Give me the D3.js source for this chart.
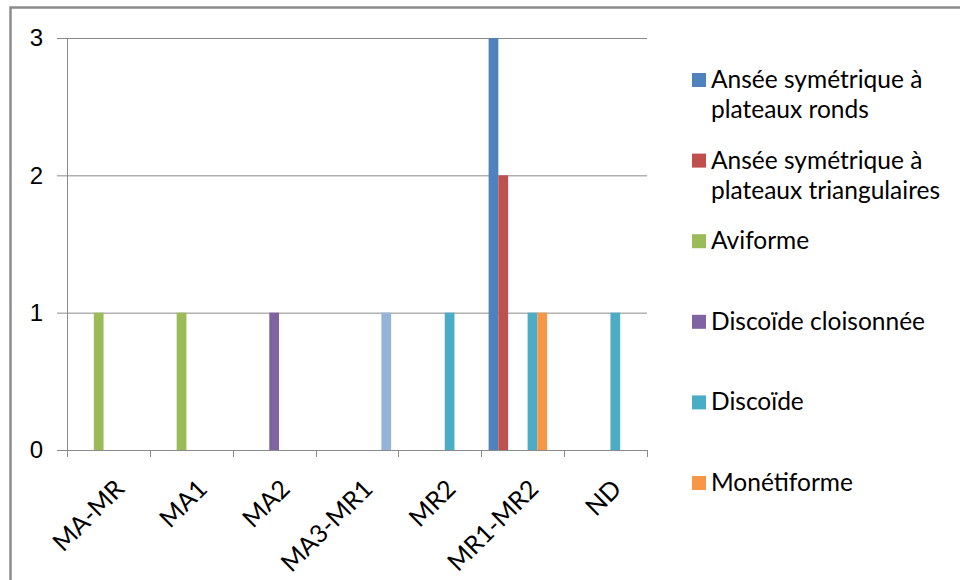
<!DOCTYPE html>
<html>
<head>
<meta charset="utf-8">
<script src="https://cdn.jsdelivr.net/npm/d3@7"></script>
<style>
  body { margin: 0; background: #fff; }
  svg { display: block; font-family: Lato, "Open Sans", sans-serif; }
</style>
</head>
<body>
<svg class="chart"></svg>
<script>
let categories = ['MA-MR', 'MA1', 'MA2', 'MA3-MR1', 'MR2', 'MR1-MR2', 'ND'];

let seriesNames = [
  'Ansée symétrique à plateaux ronds',
  'Ansée symétrique à plateaux triangulaires',
  'Aviforme',
  'Discoïde cloisonnée',
  'Discoïde',
  'Monétiforme',
  'Série 7'
];

// one list per series, in category order
let ronds       = [0, 0, 0, 0, 0, 3, 0];
let triangulair = [0, 0, 0, 0, 0, 2, 0];
let aviforme    = [1, 1, 0, 0, 0, 0, 0];
let cloisonnee  = [0, 0, 1, 0, 0, 0, 0];
let discoide    = [0, 0, 0, 0, 1, 1, 1];
let monetiforme = [0, 0, 0, 0, 0, 1, 0];
let serie7      = [0, 0, 0, 1, 0, 0, 0];

let yTicks = [0, 1, 2, 3];

let colors = ['#4f81bd', '#c0504d', '#9bbb59', '#8064a2', '#4bacc6', '#f79646', '#95b3d7'];

let values = [ronds, triangulair, aviforme, cloisonnee, discoide, monetiforme, serie7];

let W = 960, H = 580;
let margin = { top: 38, left: 67, right: 313, bottom: 130 };
let width = W - margin.left - margin.right;
let height = H - margin.top - margin.bottom;

let svg = d3.select('.chart')
    .attr('width', W)
    .attr('height', H);

svg.append('rect')
    .attr('width', W).attr('height', H)
    .attr('fill', '#fff');

// outer frame (only top and left visible)
svg.append('rect')
    .attr('x', 10.5).attr('y', 7.5)
    .attr('width', 1000).attr('height', 1000)
    .attr('fill', 'none')
    .attr('stroke', '#8c8c8c')
    .attr('stroke-width', 2.5);

let g = svg.append('g')
    .attr('transform', 'translate(' + margin.left + ',' + margin.top + ')');

let x0 = d3.scaleBand()
    .domain(categories)
    .range([0, width])
    .padding(0);

let x1 = d3.scaleBand()
    .domain(d3.range(seriesNames.length))
    .range([0, x0.bandwidth()])
    .paddingInner(0)
    .paddingOuter(0.75);

let y = d3.scaleLinear()
    .domain([0, 3])
    .range([height, 0]);

// gridlines + y ticks
let yAxis = d3.axisLeft(y)
    .tickValues(yTicks)
    .tickSize(-width - 10)
    .tickFormat(d3.format('d'))
    .tickPadding(14);

let yg = g.append('g')
    .attr('transform', 'translate(' + width + ',0)')
    .call(yAxis);
yg.select('.domain').remove();
yg.selectAll('.tick line')
    .attr('x1', -width - 10).attr('x2', 0)
    .attr('stroke', '#8a8a8a');
yg.selectAll('.tick text')
    .attr('x', -width - 24)
    .attr('fill', '#000')
    .style('font-size', '24px');

// y axis line
g.append('line')
    .attr('x1', 0.5).attr('x2', 0.5)
    .attr('y1', 0).attr('y2', height)
    .attr('stroke', '#8a8a8a');

// bars
let bars = [];
values.forEach((vals, s) => {
  vals.forEach((v, c) => {
    if (v > 0) bars.push({ s: s, c: categories[c], v: v });
  });
});

g.selectAll('rect.bar')
    .data(bars)
  .enter().append('rect')
    .attr('class', 'bar')
    .attr('x', d => x0(d.c) + x1(d.s))
    .attr('width', x1.bandwidth())
    .attr('y', d => y(d.v))
    .attr('height', d => y(0) - y(d.v))
    .attr('fill', d => colors[d.s]);

// x axis
let xAxis = d3.axisBottom(x0)
    .tickSize(0)
    .tickFormat('');

let xg = g.append('g')
    .attr('transform', 'translate(0,' + height + ')')
    .call(xAxis);
xg.select('.domain')
    .attr('stroke', '#8a8a8a')
    .attr('d', 'M0,0.5H' + width);

// boundary tick marks
g.append('g').selectAll('line')
    .data(categories.map(c => x0(c)).concat([width]))
  .enter().append('line')
    .attr('x1', d => Math.round(d) + 0.5).attr('x2', d => Math.round(d) + 0.5)
    .attr('y1', height).attr('y2', height + 7)
    .attr('stroke', '#8a8a8a');

g.append('g').selectAll('text')
    .data(categories)
  .enter().append('text')
    .attr('transform', d => 'translate(' + (x0(d) + x0.bandwidth() / 2 + 5) + ',' + (height + 28) + ') rotate(-45)')
    .attr('text-anchor', 'end')
    .attr('dy', '0.7em')
    .style('font-size', '25px')
    .text(d => d);

// legend (6 entries shown)
let legend = svg.append('g')
    .attr('transform', 'translate(692,0)');

let legendY = d3.scaleLinear()
    .domain([0, 5])
    .range([80, 483]);

let item = legend.selectAll('g')
    .data(seriesNames.slice(0, 6))
  .enter().append('g')
    .attr('transform', (d, i) => 'translate(0,' + legendY(i) + ')');

item.append('rect')
    .attr('x', 0).attr('y', -7)
    .attr('width', 14).attr('height', 14)
    .attr('fill', (d, i) => colors[i]);

item.append('text')
    .attr('x', 19)
    .attr('y', 8)
    .style('font-size', '24.5px')
    .each(function(d) {
      let t = d3.select(this);
      let words = d.split(' ');
      let line = [];
      let tspan = t.append('tspan').attr('x', 19).attr('dy', 0);
      words.forEach(w => {
        line.push(w);
        tspan.text(line.join(' '));
        if (tspan.node().getComputedTextLength() > 240 && line.length > 1) {
          line.pop();
          tspan.text(line.join(' '));
          line = [w];
          tspan = t.append('tspan').attr('x', 19).attr('dy', 30).text(w);
        }
      });
    });
</script>
</body>
</html>
